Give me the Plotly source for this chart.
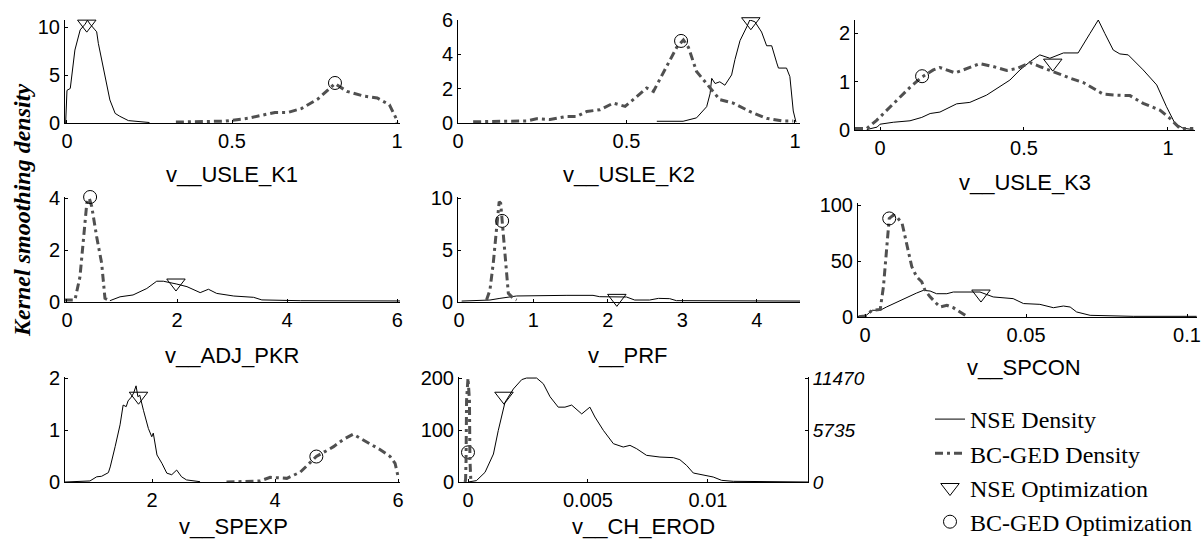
import plotly.graph_objects as go

W, H = 1204, 542

# ---------------- data ----------------
k1_nse_x = [-0.004, 0.0, 0.01, 0.015, 0.024, 0.04, 0.055, 0.062, 0.07, 0.085, 0.09, 0.095, 0.11, 0.12, 0.13, 0.146, 0.16, 0.186, 0.25]
k1_nse_y = [0.0, 3.4, 3.6, 5.0, 7.6, 9.7, 10.3, 10.7, 10.3, 9.7, 9.5, 8.3, 5.9, 4.1, 2.4, 1.0, 0.7, 0.25, 0.05]
k1_bc_x = [0.33, 0.48, 0.55, 0.63, 0.67, 0.71, 0.76, 0.812, 0.848, 0.9, 0.94, 0.977, 0.997, 1.0]
k1_bc_y = [0.1, 0.2, 0.5, 1.1, 1.1, 1.5, 2.5, 4.1, 3.3, 2.8, 2.6, 1.9, 0.5, 0.05]
k1_opt_nse = (0.06, 10.3)
k1_opt_bc = (0.812, 4.17)

k2_nse_x = [0.59, 0.668, 0.708, 0.738, 0.748, 0.753, 0.763, 0.777, 0.792, 0.812, 0.822, 0.837, 0.857, 0.866, 0.881, 0.901, 0.916, 0.931, 0.946, 0.951, 0.975, 0.985, 0.995, 1.003]
k2_nse_y = [0.1, 0.1, 0.3, 0.95, 1.7, 2.6, 2.3, 2.4, 2.2, 2.8, 3.7, 4.8, 5.6, 6.0, 5.9, 5.3, 4.5, 4.5, 3.5, 3.2, 3.2, 2.7, 0.7, 0.05]
k2_bc_x = [0.045, 0.204, 0.233, 0.273, 0.322, 0.352, 0.382, 0.421, 0.461, 0.496, 0.52, 0.56, 0.58, 0.619, 0.649, 0.669, 0.684, 0.708, 0.738, 0.777, 0.817, 0.866, 0.916, 0.965, 0.995]
k2_bc_y = [0.07, 0.12, 0.25, 0.2, 0.38, 0.38, 0.67, 0.77, 1.16, 0.97, 1.36, 2.04, 1.84, 3.3, 4.4, 4.84, 4.4, 3.0, 2.3, 1.36, 1.16, 0.67, 0.27, 0.12, 0.12]
k2_opt_nse = (0.869, 5.9)
k2_opt_bc = (0.662, 4.78)

k3_nse_x = [-0.046, -0.01, 0.0, 0.046, 0.104, 0.145, 0.174, 0.208, 0.266, 0.312, 0.37, 0.417, 0.451, 0.486, 0.521, 0.555, 0.59, 0.637, 0.688, 0.729, 0.758, 0.781, 0.81, 0.833, 0.862, 0.914, 0.961, 0.995, 1.024, 1.053, 1.088]
k3_nse_y = [0.01, 0.06, 0.12, 0.16, 0.19, 0.26, 0.34, 0.37, 0.54, 0.57, 0.72, 0.89, 1.03, 1.24, 1.41, 1.55, 1.48, 1.59, 1.59, 1.99, 2.27, 1.99, 1.65, 1.57, 1.55, 1.24, 0.93, 0.48, 0.14, 0.035, 0.01]
k3_bc_x = [-0.087, -0.046, -0.012, 0.046, 0.104, 0.145, 0.185, 0.208, 0.26, 0.289, 0.347, 0.393, 0.44, 0.475, 0.521, 0.555, 0.602, 0.66, 0.706, 0.741, 0.775, 0.822, 0.868, 0.914, 0.972, 1.007, 1.042, 1.088]
k3_bc_y = [0.03, 0.03, 0.2, 0.54, 0.88, 1.09, 1.24, 1.29, 1.18, 1.24, 1.37, 1.31, 1.23, 1.27, 1.39, 1.31, 1.2, 1.07, 0.98, 0.86, 0.74, 0.72, 0.71, 0.55, 0.41, 0.24, 0.03, 0.03]
k3_opt_nse = (0.60, 1.38)
k3_opt_bc = (0.146, 1.11)

pkr_nse_x = [0.78, 0.964, 1.2, 1.45, 1.63, 1.75, 1.995, 2.18, 2.42, 2.57, 2.72, 3.03, 3.39, 3.54, 4.24, 6.05]
pkr_nse_y = [0.05, 0.2, 0.27, 0.52, 0.8, 0.8, 0.69, 0.59, 0.36, 0.49, 0.33, 0.23, 0.18, 0.08, 0.05, 0.04]
pkr_bc_x = [-0.04, 0.145, 0.236, 0.3, 0.36, 0.405, 0.45, 0.54, 0.63, 0.69, 0.78]
pkr_bc_y = [0.08, 0.08, 0.97, 2.38, 3.8, 3.99, 3.67, 2.5, 1.49, 0.14, 0.05]
pkr_opt_nse = (1.98, 0.73)
pkr_opt_bc = (0.42, 4.04)

prf_nse_x = [0.036, 0.416, 0.55, 0.774, 1.45, 1.8, 1.89, 2.25, 2.36, 2.56, 2.68, 2.83, 2.92, 4.58]
prf_nse_y = [0.09, 0.19, 0.35, 0.58, 0.64, 0.64, 0.51, 0.48, 0.19, 0.19, 0.35, 0.32, 0.13, 0.09]
prf_bc_x = [0.37, 0.416, 0.46, 0.505, 0.54, 0.56, 0.595, 0.63, 0.663, 0.73, 0.774]
prf_bc_y = [0.19, 1.15, 3.7, 6.9, 9.65, 9.5, 6.3, 3.1, 0.83, 0.35, 0.19]
prf_opt_nse = (2.12, 0.35)
prf_opt_bc = (0.58, 7.8)

spcon_nse_x = [-0.0022, 0.0005, 0.0022, 0.0047, 0.0067, 0.011, 0.016, 0.0181, 0.0202, 0.0222, 0.0254, 0.0274, 0.0357, 0.0398, 0.046, 0.0492, 0.0543, 0.0585, 0.0616, 0.0637, 0.0657, 0.0699, 0.0833, 0.103]
spcon_nse_y = [0.3, 1.8, 6, 6, 9, 15, 21.4, 23.8, 23.2, 20.8, 20.8, 22.3, 22.3, 17.9, 16.4, 12, 11.3, 8.3, 9.8, 8.9, 4.5, 1.5, 0.6, 0.6]
spcon_bc_x = [-0.002, 0.0, 0.0022, 0.0047, 0.0057, 0.0067, 0.0075, 0.0088, 0.0098, 0.0115, 0.0129, 0.0145, 0.016, 0.0176, 0.0186, 0.0202, 0.0222, 0.0233, 0.0254, 0.0274, 0.0295, 0.0316]
spcon_bc_y = [0.3, 0.9, 6, 6.8, 27, 62.8, 88, 91, 89.5, 83.6, 65.8, 45, 36, 31.5, 24, 18, 12, 9, 10.5, 8.3, 4.5, 0.6]
spcon_opt_nse = (0.036, 20.5)
spcon_opt_bc = (0.0075, 88)

spexp_nse_x = [0.585, 0.99, 1.10, 1.18, 1.29, 1.32, 1.40, 1.48, 1.53, 1.58, 1.61, 1.66, 1.70, 1.74, 1.77, 1.80, 1.86, 1.94, 1.995, 2.02, 2.08, 2.16, 2.24, 2.32, 2.40, 2.48, 2.56, 2.78]
spexp_nse_y = [0.0, 0.02, 0.1, 0.11, 0.18, 0.29, 0.68, 1.1, 1.48, 1.45, 1.56, 1.63, 1.71, 1.85, 1.64, 1.67, 1.38, 1.03, 0.87, 0.94, 0.52, 0.36, 0.17, 0.14, 0.23, 0.1, 0.04, 0.006]
spexp_bc_x = [3.21, 3.76, 3.92, 4.19, 4.41, 4.67, 4.95, 5.11, 5.27, 5.49, 5.71, 5.87, 5.95, 6.0]
spexp_bc_y = [0.0, 0.02, 0.09, 0.07, 0.19, 0.49, 0.68, 0.82, 0.92, 0.77, 0.62, 0.49, 0.36, 0.1]
spexp_opt_nse = (1.78, 1.65)
spexp_opt_bc = (4.67, 0.49)

ch_nse_x = [0.0, 0.00035, 0.00071, 0.00106, 0.00126, 0.00154, 0.00189, 0.00224, 0.00244, 0.00286, 0.00314, 0.00342, 0.00376, 0.00404, 0.00432, 0.00474, 0.00508, 0.00529, 0.00564, 0.00606, 0.00647, 0.00675, 0.00703, 0.00744, 0.008, 0.00856, 0.00883, 0.00911, 0.00939, 0.00994, 0.01022, 0.01057, 0.01106, 0.01417]
ch_nse_y = [0, 2.6, 18.6, 53.8, 98.7, 153, 179, 197, 200, 200, 189, 164, 144, 144, 148, 131, 144, 125, 99.4, 73.7, 67.3, 70.5, 64, 51.3, 48, 46.8, 42.9, 32, 17.3, 12.8, 9.6, 3.2, 1.3, 0]
ch_bc_x = [-0.00012, -0.0001, -0.00008, -0.00006, 0.0, 0.00006, 0.00008, 0.0001, 0.00012]
ch_bc_y = [0, 300, 2500, 9000, 11470, 9000, 2500, 300, 0]
ch_opt_nse = (0.0015, 165)
ch_opt_bc = (0.0, 57)
ch_right_ticks = [0, 5735, 11470]
ch_right_ticktext = ["0", "5735", "11470"]

titles = ["v__USLE_K1", "v__USLE_K2", "v__USLE_K3", "v__ADJ_PKR", "v__PRF",
          "v__SPCON", "v__SPEXP", "v__CH_EROD"]
legend_names = ["NSE Density", "BC-GED Density", "NSE Optimization", "BC-GED Optimization"]

# ---------------- layout (pixel boxes) ----------------
# (left, right, top, bottom, xrange, yrange, xticks, yticks, title_x, title_y)
boxes = [
    (65, 400, 20, 123, [-0.006, 1.009], [0, 10.73], [0, 0.5, 1], [0, 5, 10], 232, 175),
    (458, 800, 20, 123, [0, 1.015], [0, 6], [0, 0.5, 1], [0, 2, 4, 6], 629, 175),
    (855, 1195, 20, 130, [-0.087, 1.094], [0, 2.27], [0, 0.5, 1], [0, 1, 2], 1025, 182),
    (65, 400, 197, 302, [-0.036, 6.05], [0, 4.04], [0, 2, 4, 6], [0, 2, 4], 232, 355),
    (458, 800, 197, 302, [-0.013, 4.58], [0, 10.1], [0, 1, 2, 3, 4], [0, 5, 10], 627, 355),
    (858, 1197, 203, 317, [-0.0022, 0.1031], [0, 101.8], [0, 0.05, 0.1], [0, 50, 100], 1024, 367),
    (65, 400, 377, 482, [0.585, 6.03], [0, 2.02], [2, 4, 6], [0, 1, 2], 233, 526),
    (459, 808, 377, 482, [-0.000375, 0.01417], [0, 202], [0, 0.005, 0.01], [0, 100, 200], 644, 526),
]

series = [
    (k1_nse_x, k1_nse_y, k1_bc_x, k1_bc_y, k1_opt_nse, k1_opt_bc),
    (k2_nse_x, k2_nse_y, k2_bc_x, k2_bc_y, k2_opt_nse, k2_opt_bc),
    (k3_nse_x, k3_nse_y, k3_bc_x, k3_bc_y, k3_opt_nse, k3_opt_bc),
    (pkr_nse_x, pkr_nse_y, pkr_bc_x, pkr_bc_y, pkr_opt_nse, pkr_opt_bc),
    (prf_nse_x, prf_nse_y, prf_bc_x, prf_bc_y, prf_opt_nse, prf_opt_bc),
    (spcon_nse_x, spcon_nse_y, spcon_bc_x, spcon_bc_y, spcon_opt_nse, spcon_opt_bc),
    (spexp_nse_x, spexp_nse_y, spexp_bc_x, spexp_bc_y, spexp_opt_nse, spexp_opt_bc),
    (ch_nse_x, ch_nse_y, ch_bc_x, ch_bc_y, ch_opt_nse, ch_opt_bc),
]

NSE_LINE = dict(color="black", width=1)
BC_LINE = dict(color="#505050", width=3, dash="8px,4px,3px,4px")
TICKFONT = dict(family="Liberation Sans, Arial", size=20, color="black")

fig = go.Figure()

for i, ((l, r, t, b, xr, yr, xt, yt, tx, ty), (nx, ny, bx, by, on, ob)) in enumerate(zip(boxes, series), start=1):
    sfx = "" if i == 1 else str(i)
    xa, ya = "x" + sfx, "y" + sfx
    first = i == 1
    fig.add_trace(go.Scatter(x=nx, y=ny, mode="lines", line=NSE_LINE, xaxis=xa, yaxis=ya,
                             name=legend_names[0], showlegend=first, legendgroup="a"))
    bc_y_axis = "y9" if i == 8 else ya
    fig.add_trace(go.Scatter(x=bx, y=by, mode="lines", line=BC_LINE, xaxis=xa, yaxis=bc_y_axis,
                             name=legend_names[1], showlegend=first, legendgroup="b"))
    fig.add_trace(go.Scatter(x=[on[0]], y=[on[1]], mode="markers", xaxis=xa, yaxis=ya,
                             marker=dict(symbol="triangle-down-open", size=16, color="black",
                                         line=dict(width=1, color="black")),
                             name=legend_names[2], showlegend=first, legendgroup="c", cliponaxis=False))
    fig.add_trace(go.Scatter(x=[ob[0]], y=[ob[1]], mode="markers", xaxis=xa, yaxis=ya,
                             marker=dict(symbol="circle-open", size=13, color="black",
                                         line=dict(width=1, color="black")),
                             name=legend_names[3], showlegend=first, legendgroup="d", cliponaxis=False))

    axis_common = dict(showline=True, linecolor="black", linewidth=1, ticks="inside", ticklen=3,
                       tickcolor="black", showgrid=False, zeroline=False, tickfont=TICKFONT,
                       automargin=False, mirror=False)
    fig.update_layout(**{
        "xaxis" + sfx: dict(domain=[l / W, r / W], range=xr, tickvals=xt, anchor=ya, **axis_common),
        "yaxis" + sfx: dict(domain=[1 - b / H, 1 - t / H], range=yr, tickvals=yt, anchor=xa, **axis_common),
    })
    fig.add_annotation(text=titles[i - 1], x=tx / W, y=1 - ty / H, xref="paper", yref="paper",
                       showarrow=False, xanchor="center", yanchor="middle",
                       font=dict(family="Liberation Sans, Arial", size=22, color="black"))

# right axis for the CH_EROD BC-GED density
fig.update_layout(yaxis9=dict(overlaying="y8", side="right", anchor="x8", range=[0, 11585],
                              tickvals=ch_right_ticks, ticktext=ch_right_ticktext,
                              showline=True, linecolor="black", linewidth=1,
                              ticks="inside", ticklen=3, tickcolor="black", showgrid=False, zeroline=False,
                              tickfont=dict(family="Liberation Sans, Arial", size=19, color="black", style="italic"),
                              automargin=False))

fig.add_annotation(text="<b><i>Kernel smoothing density</i></b>", x=22 / W, y=1 - 211 / H,
                   xref="paper", yref="paper", showarrow=False, textangle=-90,
                   xanchor="center", yanchor="middle",
                   font=dict(family="Liberation Serif, Times New Roman", size=24, color="black"))

fig.update_layout(
    width=W, height=H, margin=dict(l=0, r=0, t=0, b=0, autoexpand=False),
    paper_bgcolor="white", plot_bgcolor="white",
    legend=dict(x=930 / W, y=1 - 397 / H, xanchor="left", yanchor="top",
                font=dict(family="Liberation Serif, Times New Roman", size=24, color="black"),
                bgcolor="rgba(0,0,0,0)", tracegroupgap=0, itemwidth=30, traceorder="grouped"),
)

fig.write_html("out.html", config={"displayModeBar": False, "responsive": False},
               post_script="document.body.style.margin='0px';document.body.style.overflow='hidden';")
